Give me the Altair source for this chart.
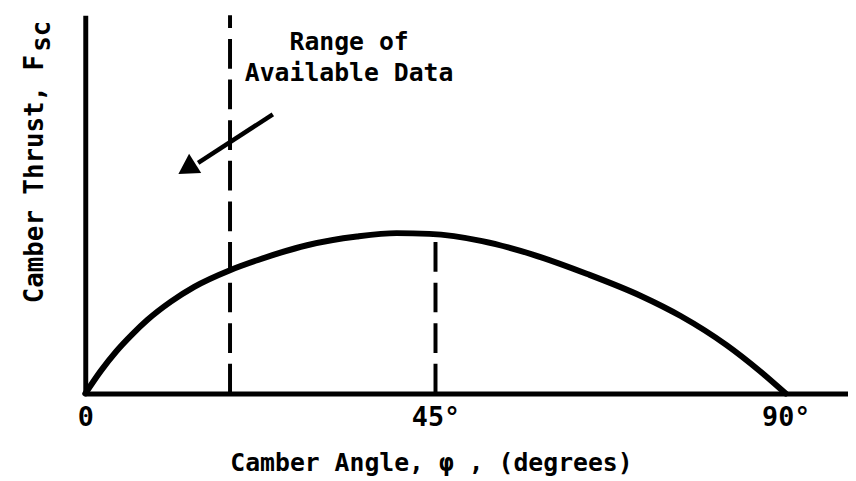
import altair as alt
import pandas as pd

# Curve (degrees, relative thrust on a 0-100 scale)
angle = [0, 2, 4, 6, 8, 11, 14, 18.6, 22.2, 28.5, 34.9, 40.0, 44.2,
         51.0, 57.4, 64.5, 71.4, 76.5, 82.4, 86.7, 90]
thrust = [0, 6.0, 11.2, 15.6, 19.5, 24.3, 28.2, 32.6, 35.3, 39.2, 41.5, 42.4, 42.2,
          40.3, 36.8, 31.6, 25.8, 20.5, 12.8, 5.9, 0]

# Dashed verticals: limit of available data, and 45 degrees up to the curve
dash_x = [18.6, 45]
dash_top = [100, 42.1]

# Arrow (shaft start, shaft end) and head
arrow_x = [24.1, 14.5]
arrow_y = [73.8, 61.0]
head_x = [13.4]
head_y = [59.9]

# Annotation text
note_lines = ["Range of", "Available Data"]
note_x = [33.9, 33.9]
note_y = [90.8, 82.7]

tick_values = [0, 45, 90]

FONT = "DejaVu Sans Mono"

curve_df = pd.DataFrame({"angle": angle, "thrust": thrust})
dash_df = pd.DataFrame({"angle": dash_x, "thrust": [0] * len(dash_x), "top": dash_top})
arrow_df = pd.DataFrame({"angle": arrow_x, "thrust": arrow_y})
head_df = pd.DataFrame({"angle": head_x, "thrust": head_y})
note_df = pd.DataFrame({"angle": note_x, "thrust": note_y, "t": note_lines})

xscale = alt.Scale(domain=[0, 98], nice=False, zero=False)
yscale = alt.Scale(domain=[0, 100], nice=False)

xaxis = alt.Axis(
    values=tick_values,
    labelExpr="datum.value == 0 ? '0' : datum.value + '°'",
    labelFont=FONT, labelFontWeight="bold", labelFontSize=27, labelColor="black",
    labelPadding=11, labelAlign="center", labelFlush=False,
    ticks=False, grid=False,
    domainColor="black", domainWidth=5,
    titleFont=FONT, titleFontWeight="bold", titleFontSize=25, titleColor="black",
    titleX=349, titleY=78, titleAlign="center", titleBaseline="alphabetic",
)
yaxis = alt.Axis(
    labels=False, ticks=False, grid=False,
    domainColor="black", domainWidth=5,
    titleFont=FONT, titleFontWeight="bold", titleFontSize=26, titleColor="black",
    titleAngle=270, titleX=-43, titleY=165, titleAlign="center",
    titleBaseline="alphabetic",
)
XT = "Camber Angle, φ , (degrees)"
YT = "Camber Thrust, F"


def X(field):
    return alt.X(field, scale=xscale, axis=xaxis, title=XT)


def Y(field):
    return alt.Y(field, scale=yscale, axis=yaxis, title=YT)


curve = alt.Chart(curve_df).mark_line(
    color="black", strokeWidth=6, interpolate="monotone", strokeCap="round"
).encode(x=X("angle:Q"), y=Y("thrust:Q"))

dashes = alt.Chart(dash_df).mark_rule(
    color="black", strokeWidth=4, strokeDash=[30, 11]
).encode(x=X("angle:Q"), y=Y("thrust:Q"), y2="top:Q")

shaft = alt.Chart(arrow_df).mark_line(color="black", strokeWidth=4.5).encode(
    x=X("angle:Q"), y=Y("thrust:Q"))

head = alt.Chart(head_df).mark_point(
    shape="triangle", filled=True, color="black", opacity=1, size=530, angle=238
).encode(x=X("angle:Q"), y=Y("thrust:Q"))

note = alt.Chart(note_df).mark_text(
    font=FONT, fontWeight="bold", fontSize=25, color="black",
    align="center", baseline="alphabetic"
).encode(x=X("angle:Q"), y=Y("thrust:Q"), text="t:N")

subscript = alt.Chart(pd.DataFrame({"t": ["sc"]})).mark_text(
    font=FONT, fontWeight="bold", fontSize=26, color="black",
    align="left", baseline="alphabetic", angle=270
).encode(x=alt.value(-36), y=alt.value(37), text="t:N")

chart = alt.layer(curve, dashes, shaft, head, note, subscript).properties(
    width=770, height=382,
    autosize=alt.AutoSizeParams(type="none"),
    padding={"left": 78, "top": 5, "right": 0, "bottom": 86},
    background="white",
).configure_view(strokeWidth=0)

chart.save("out.html", embed_options={"renderer": "svg", "actions": False})
